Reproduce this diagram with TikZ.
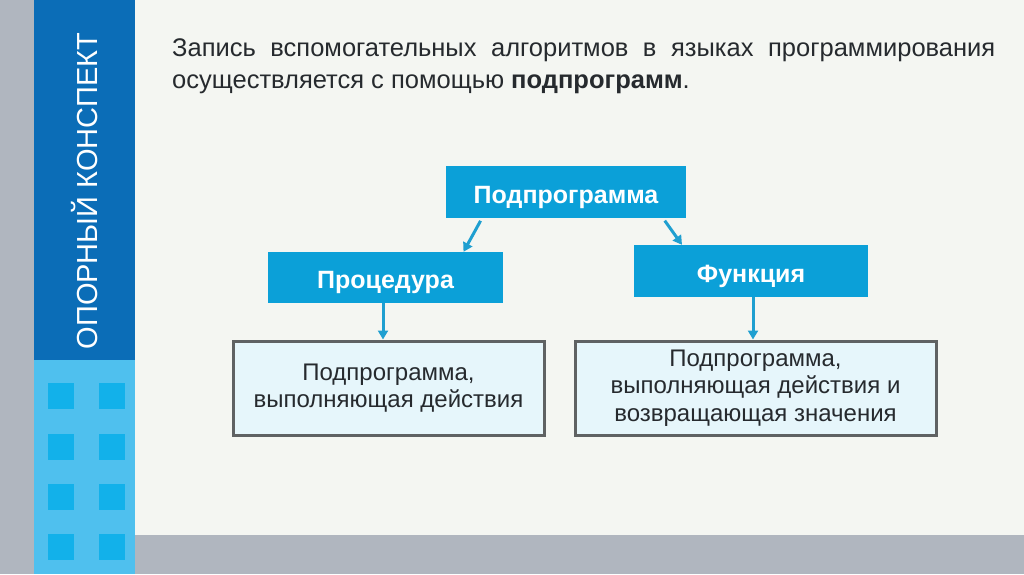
\documentclass[tikz,border=0pt]{standalone}
\usepackage{fontspec}
\setmainfont{Liberation Sans}
\usetikzlibrary{arrows.meta}

\definecolor{seryy}{HTML}{B0B6BF}
\definecolor{fon}{HTML}{F4F6F2}
\definecolor{sinij}{HTML}{0B6DB7}
\definecolor{goluboy}{HTML}{4FC0EE}
\definecolor{kvadrat}{HTML}{12B1EA}
\definecolor{blokfon}{HTML}{0BA0D8}
\definecolor{opisfon}{HTML}{E6F6FB}
\definecolor{ramka}{HTML}{5F6263}
\definecolor{strelkacvet}{HTML}{1F9FD0}
\definecolor{tekst}{HTML}{262A2E}

\begin{document}
\begin{tikzpicture}[x=1pt, y=-1pt,
      blok/.style={fill=blokfon, text=white, inner sep=0pt,
        font=\fontsize{25}{30}\selectfont\bfseries,
        text height=22pt, text depth=0pt,
        minimum width=240pt, minimum height=52pt},
      opis/.style={fill=opisfon, draw=ramka, line width=3pt, text=tekst,
        align=center, inner sep=0pt, minimum height=94pt,
        font=\fontsize{24}{27.5}\selectfont},
      strelka/.style={-{Triangle[length=9pt,width=10pt]}, line width=3pt,
        draw=strelkacvet}]

    % 1. Фон слайда
    \fill[seryy] (0,0) rectangle (1024,574);
    \fill[fon] (135,0) rectangle (1024,535);
    \fill[sinij] (34,0) rectangle (135,360);
    \fill[goluboy] (34,360) rectangle (135,574);
    \foreach \y in {383,434,484,534} {
      \foreach \x in {48,99}
        \fill[kvadrat] (\x,\y) rectangle ++(26,26);
    }
    \node[rotate=90, text=white, inner sep=0pt,
      font=\fontsize{29}{29}\selectfont] (metka) at (85,191) {ОПОРНЫЙ КОНСПЕКТ};

    % 2. Заголовок
    \node[anchor=base west, inner sep=0pt, text=tekst, font=\fontsize{25.5}{30}\selectfont]
      (zag1) at (172,56) {\makebox[823pt][s]{Запись вспомогательных алгоритмов в языках программирования}};
    \node[anchor=base west, inner sep=0pt, text=tekst, font=\fontsize{25.5}{30}\selectfont]
      (zag2) at (172,88) {осуществляется с помощью \textbf{подпрограмм}.};

    % 3. Схема
    \node[blok] (podpr) at (566,192) {Подпрограмма};
    \node[blok, minimum width=235pt, minimum height=51pt] (proc) at (385.5,277.5) {Процедура};
    \node[blok, minimum width=234pt] (funk) at (751,271) {Функция};

    \node[opis, minimum width=311pt] (opis1) at (388.5,388) {Подпрограмма,\\выполняющая действия};
    \node[opis, minimum width=361pt] (opis2) at (755.5,388) {Подпрограмма,\\выполняющая действия и\\возвращающая значения};

    \draw[strelka, shorten <=3pt] ([xshift=-84pt]podpr.south) -- ([xshift=78pt]proc.north);
    \draw[strelka, shorten <=3pt] ([xshift=97pt]podpr.south) -- ([xshift=-69pt]funk.north);
    \draw[strelka] ([xshift=-2.5pt]proc.south) -- ([xshift=-2.5pt]proc.south |- opis1.north);
    \draw[strelka] ([xshift=2pt]funk.south) -- ([xshift=2pt]funk.south |- opis2.north);

\end{tikzpicture}
\end{document}
